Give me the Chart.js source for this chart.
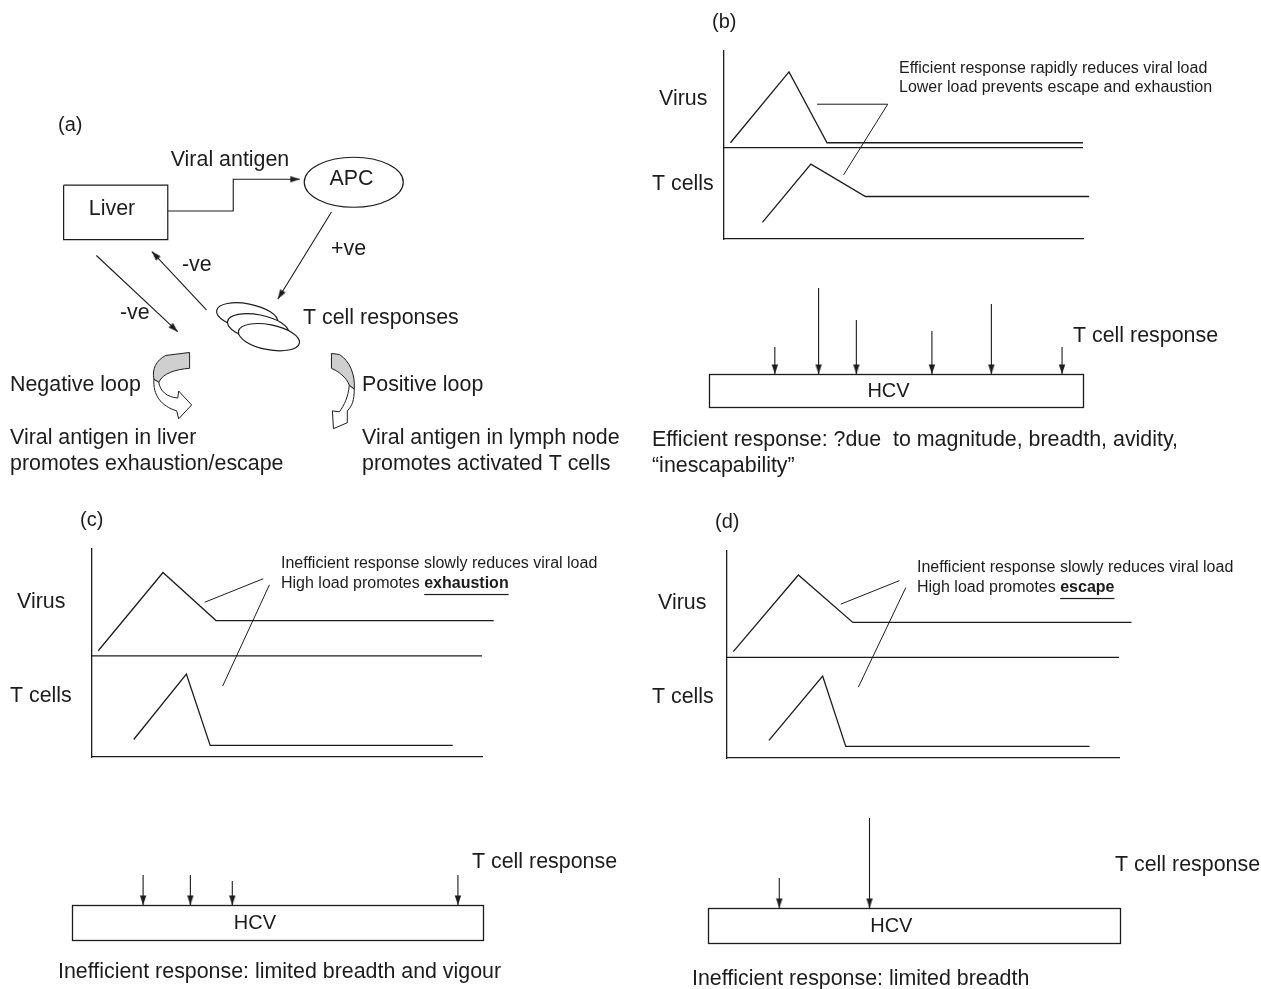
<!DOCTYPE html>
<html>
<head>
<meta charset="utf-8">
<script src="https://cdn.jsdelivr.net/npm/chart.js@4.4.1/dist/chart.umd.min.js"></script>
<style>
  html, body { margin: 0; padding: 0; background: #fff; }
  #page { position: relative; width: 1261px; height: 989px; overflow: hidden; background: #fff; }
  #page canvas { position: absolute; left: 0; top: 0; }
</style>
</head>
<body>
<div id="page"></div>
<script>
// ---- data -------------------------------------------------------------
// kinetics panels: time (0-100) on x, level (0-100) on y
const virusB  = [[1.8, 51.2], [18.1, 88.9], [28.7, 51.2], [100, 51.2]];
const tCellsB = [[10.7, 8.8], [24.2, 39.8], [39.4, 22.6], [101.7, 22.6]];
const virusC  = [[1.6, 51.1], [18.2, 88.7], [31.8, 65.6], [103, 65.6]];
const tCellsC = [[10.7, 8.4], [24.2, 39.9], [30.3, 5.6], [92.5, 5.6]];
const virusD  = [[1.6, 51.4], [18.2, 88.4], [32.1, 65.5], [103.2, 65.5]];
const tCellsD = [[10.7, 8.5], [24.4, 39.6], [30.3, 5.6], [92.5, 5.6]];
const dividerLevel = [48.6, 48.6, 48.6];   // b, c, d

// callout lines from the annotation text to the curves
const pointerB  = [[25.9, 71.7], [45.6, 71.7], [33.3, 34.1]];
const pointerC1 = [[28.9, 74.4], [43.9, 85.7]];
const pointerC2 = [[45.5, 82.8], [33.5, 34.1]];
const pointerD1 = [[29.0, 74.3], [44.0, 85.7]];
const pointerD2 = [[45.6, 82.3], [33.5, 34.2]];

// HCV genome: epitope position (0-100) and size of T cell response
const epitopesB = [17.6, 29.3, 39.4, 59.6, 75.5, 94.4];
const responseB = [27, 86, 54, 43, 70, 27];
const epitopesC = [17.3, 28.8, 39.0, 93.9];
const responseC = [30, 30, 24, 30];
const epitopesD = [17.3, 39.2];
const responseD = [30, 90];

// panel (a) schematic, drawn in page units
const liverBox    = [[59, 182], [164, 182], [164, 237], [59, 237], [59, 182]];
const antigenPath = [[164, 208], [230, 208], [230, 176], [297, 176]];
const apcToT      = [[329, 209], [275, 297]];
const tToLiver    = [[203, 308], [148, 249]];
const liverToT    = [[92, 253], [174, 330]];
const apcNode     = [351.5, 179];
const tCellNodes  = [[244, 314.5], [255, 325.5], [266, 335.5]];

// ---- setup ------------------------------------------------------------
const W = 1261, H = 989;
const INK = '#1c1c1c';
const FONT = '"Liberation Sans", Arial, Helvetica, sans-serif';
const pts = arr => arr.map(([x, y]) => ({x, y}));

// arrow head pointing down, tip at the centre of the image
const arrowHead = document.createElement('canvas');
arrowHead.width = 8; arrowHead.height = 20;
(function () {
  const c = arrowHead.getContext('2d');
  c.fillStyle = INK;
  c.beginPath(); c.moveTo(0.8, 0.5); c.lineTo(7.2, 0.5); c.lineTo(4, 10); c.closePath(); c.fill();
})();

function makeCanvas() {
  const c = document.createElement('canvas');
  c.width = W; c.height = H;
  document.getElementById('page').appendChild(c);
  return c;
}

function drawTexts(ctx, items) {
  items.forEach(it => {
    const size = it.size || 21.4;
    const parts = it.parts || [{t: it.t}];
    ctx.save();
    ctx.fillStyle = INK;
    ctx.textBaseline = 'middle';
    ctx.textAlign = 'left';
    const widths = parts.map(p => {
      ctx.font = (p.bold ? 'bold ' : '') + size + 'px ' + FONT;
      return ctx.measureText(p.t).width;
    });
    const total = widths.reduce((a, b) => a + b, 0);
    let x = it.align === 'center' ? it.x - total / 2 : it.x;
    parts.forEach((p, i) => {
      ctx.font = (p.bold ? 'bold ' : '') + size + 'px ' + FONT;
      ctx.fillText(p.t, x, it.y);
      if (p.underline) ctx.fillRect(x, it.y + size * 0.62, widths[i], 1.2);
      x += widths[i];
    });
    ctx.restore();
  });
}

Chart.register({
  id: 'texts',
  afterDraw(chart, args, opts) {
    if (opts.items) drawTexts(chart.ctx, opts.items);
  }
});

const hidden = {display: false};
const base = {
  responsive: false,
  animation: false,
  events: [],
};

function lineSet(data, width, extra) {
  return Object.assign({
    data: pts(data), showLine: true, borderColor: INK, borderWidth: width,
    pointRadius: 0, fill: false, clip: false, tension: 0
  }, extra || {});
}

// screen-space direction of the last segment -> rotation of the head
function rotationOf(seg, yUp) {
  const dx = seg[1][0] - seg[0][0];
  const dy = (seg[1][1] - seg[0][1]) * (yUp ? -1 : 1);
  return Math.atan2(-dx, dy) * 180 / Math.PI;
}

function arrowSet(data, yUp) {
  const n = data.length;
  const last = [data[n - 2], data[n - 1]];
  return lineSet(data, 1.1, {
    pointRadius: data.map((d, i) => i === n - 1 ? 2 : 0),
    pointStyle: arrowHead,
    pointRotation: data.map((d, i) => i === n - 1 ? rotationOf(last, yUp) : 0)
  });
}

// ---- panel (a) --------------------------------------------------------
function ribbon(ctx, px, py) {
  ctx.save();
  ctx.strokeStyle = INK; ctx.lineWidth = 1; ctx.lineJoin = 'round';
  const path = (cmds) => {
    ctx.beginPath();
    cmds.forEach(c => {
      if (c[0] === 'M') ctx.moveTo(px(c[1]), py(c[2]));
      else if (c[0] === 'L') ctx.lineTo(px(c[1]), py(c[2]));
      else ctx.bezierCurveTo(px(c[1]), py(c[2]), px(c[3]), py(c[4]), px(c[5]), py(c[6]));
    });
    ctx.closePath();
  };
  // negative loop (left)
  path([['M', 150, 378], ['C', 149, 394, 157, 405, 173, 410], ['L', 175, 418], ['L', 188, 404],
        ['L', 175, 390], ['L', 174, 397], ['C', 163, 396, 156, 390, 155, 381]]);
  ctx.fillStyle = '#fff'; ctx.fill(); ctx.stroke();
  path([['M', 162, 354], ['L', 186, 351], ['L', 186, 367], ['C', 172, 368, 159, 372, 155, 381],
        ['L', 150, 378], ['C', 148, 368, 152, 359, 162, 354]]);
  ctx.fillStyle = '#cfcfcf'; ctx.fill(); ctx.stroke();
  // positive loop (right)
  path([['M', 352, 388], ['C', 352, 399, 350, 405, 345, 410], ['L', 345, 422], ['L', 331, 428],
        ['L', 330, 410], ['L', 337, 411], ['C', 342, 404, 346, 396, 347, 384]]);
  ctx.fillStyle = '#fff'; ctx.fill(); ctx.stroke();
  path([['M', 329, 352], ['L', 337, 353], ['C', 348, 360, 353, 374, 352, 388], ['L', 347, 384],
        ['C', 344, 376, 336, 370, 329, 367]]);
  ctx.fillStyle = '#cfcfcf'; ctx.fill(); ctx.stroke();
  ctx.restore();
}

new Chart(makeCanvas(), {
  type: 'scatter',
  data: {
    datasets: [
      lineSet(liverBox, 1.2),
      arrowSet(antigenPath),
      arrowSet(apcToT),
      arrowSet(tToLiver),
      arrowSet(liverToT)
    ]
  },
  options: Object.assign({}, base, {
    layout: {padding: 0},
    scales: {
      x: {type: 'linear', min: 0, max: W, display: false},
      y: {type: 'linear', min: 0, max: H, reverse: true, display: false}
    },
    plugins: {
      legend: hidden, tooltip: {enabled: false},
      texts: {items: [
        {t: '(a)', x: 58, y: 125, size: 20},
        {t: 'Viral antigen', x: 230, y: 160, align: 'center'},
        {t: 'Liver', x: 112, y: 209, align: 'center'},
        {t: 'APC', x: 351.5, y: 179, align: 'center'},
        {t: '+ve', x: 331, y: 249},
        {t: '-ve', x: 182, y: 265},
        {t: '-ve', x: 120, y: 313},
        {t: 'T cell responses', x: 303, y: 318},
        {t: 'Negative loop', x: 10, y: 385},
        {t: 'Positive loop', x: 362, y: 385},
        {t: 'Viral antigen in liver', x: 10, y: 438},
        {t: 'promotes exhaustion/escape', x: 10, y: 464},
        {t: 'Viral antigen in lymph node', x: 362, y: 438},
        {t: 'promotes activated T cells', x: 362, y: 464}
      ]}
    }
  }),
  plugins: [{
    id: 'shapes',
    afterDatasetsDraw(chart) {
      const ctx = chart.ctx;
      const px = v => chart.scales.x.getPixelForValue(v);
      const py = v => chart.scales.y.getPixelForValue(v);
      ctx.save();
      ctx.strokeStyle = INK; ctx.lineWidth = 1.2; ctx.fillStyle = '#fff';
      ctx.beginPath();
      ctx.ellipse(px(apcNode[0]), py(apcNode[1]), 49.5, 25, 0, 0, Math.PI * 2);
      ctx.stroke();
      tCellNodes.forEach(([x, y]) => {
        ctx.beginPath();
        ctx.ellipse(px(x), py(y), 31, 12.5, 11 * Math.PI / 180, 0, Math.PI * 2);
        ctx.fill(); ctx.stroke();
      });
      ctx.restore();
      ribbon(ctx, px, py);
    }
  }]
});

// ---- kinetics panels (b)-(d) -------------------------------------------
function kineticsChart(box, virus, tcells, divider, pointers, items) {
  const axis = {
    type: 'linear', min: 0, max: 100,
    ticks: {display: false},
    grid: {display: false, drawTicks: false},
    border: {display: true, color: INK, width: 1.3}
  };
  new Chart(makeCanvas(), {
    type: 'scatter',
    data: {
      datasets: [
        lineSet([[0, divider], [100, divider]], 1.3),
        lineSet(virus, 1.3),
        lineSet(tcells, 1.3)
      ].concat(pointers.map(p => lineSet(p, 1)))
    },
    options: Object.assign({}, base, {
      layout: {padding: {left: box.left, top: box.top, right: W - box.right, bottom: H - box.bottom}},
      scales: {x: axis, y: Object.assign({}, axis)},
      plugins: {legend: hidden, tooltip: {enabled: false}, texts: {items}}
    })
  });
}

kineticsChart({left: 724, right: 1083, top: 51, bottom: 239}, virusB, tCellsB, dividerLevel[0], [pointerB], [
  {t: '(b)', x: 712, y: 22, size: 20},
  {t: 'Virus', x: 659, y: 99},
  {t: 'T cells', x: 652, y: 184},
  {t: 'Efficient response rapidly reduces viral load', x: 899, y: 69, size: 16},
  {t: 'Lower load prevents escape and exhaustion', x: 899, y: 88, size: 16}
]);

kineticsChart({left: 92, right: 482, top: 549, bottom: 757}, virusC, tCellsC, dividerLevel[1], [pointerC1, pointerC2], [
  {t: '(c)', x: 80, y: 520, size: 20},
  {t: 'Virus', x: 17, y: 602},
  {t: 'T cells', x: 10, y: 696},
  {t: 'Inefficient response slowly reduces viral load', x: 281, y: 564, size: 16},
  {parts: [{t: 'High load promotes '}, {t: 'exhaustion', bold: true, underline: true}], x: 281, y: 584, size: 16}
]);

kineticsChart({left: 727, right: 1119, top: 551, bottom: 758}, virusD, tCellsD, dividerLevel[2], [pointerD1, pointerD2], [
  {t: '(d)', x: 715, y: 522, size: 20},
  {t: 'Virus', x: 658, y: 603},
  {t: 'T cells', x: 652, y: 697},
  {t: 'Inefficient response slowly reduces viral load', x: 917, y: 568, size: 16},
  {parts: [{t: 'High load promotes '}, {t: 'escape', bold: true, underline: true}], x: 917, y: 588, size: 16}
]);

// ---- HCV genome with T cell response arrows ---------------------------
function genomeChart(box, positions, magnitudes, labelAt, items) {
  new Chart(makeCanvas(), {
    type: 'scatter',
    data: {
      datasets: positions.map((p, i) => arrowSet([[p, magnitudes[i]], [p, 0]], true))
    },
    options: Object.assign({}, base, {
      layout: {padding: {left: box.left, top: box.top - 100, right: W - box.right, bottom: H - box.top}},
      scales: {
        x: {type: 'linear', min: 0, max: 100, display: false},
        y: {type: 'linear', min: 0, max: 100, display: false}
      },
      plugins: {legend: hidden, tooltip: {enabled: false}, texts: {items}}
    }),
    plugins: [{
      id: 'genome',
      beforeDatasetsDraw(chart) {
        const ctx = chart.ctx;
        const x0 = chart.scales.x.getPixelForValue(0);
        const x1 = chart.scales.x.getPixelForValue(100);
        const y0 = chart.scales.y.getPixelForValue(0);
        ctx.save();
        ctx.strokeStyle = INK; ctx.lineWidth = 1.3;
        ctx.strokeRect(Math.round(x0) + 0.5, Math.round(y0) + 0.5, Math.round(x1 - x0), box.height);
        ctx.restore();
        drawTexts(ctx, [{t: 'HCV', x: chart.scales.x.getPixelForValue(labelAt), y: y0 + box.height / 2 + 1, align: 'center', size: 20}]);
      }
    }]
  });
}

genomeChart({left: 709, right: 1083, top: 374, height: 33}, epitopesB, responseB, 48, [
  {t: 'T cell response', x: 1073, y: 336},
  {t: 'Efficient response: ?due  to magnitude, breadth, avidity,', x: 652, y: 440},
  {t: '\u201cinescapability\u201d', x: 652, y: 466}
]);

genomeChart({left: 72, right: 483, top: 905, height: 35}, epitopesC, responseC, 44.5, [
  {t: 'T cell response', x: 472, y: 862},
  {t: 'Inefficient response: limited breadth and vigour', x: 58, y: 972}
]);

genomeChart({left: 708, right: 1120, top: 908, height: 35}, epitopesD, responseD, 44.5, [
  {t: 'T cell response', x: 1115, y: 865},
  {t: 'Inefficient response: limited breadth', x: 692, y: 979}
]);
</script>
</body>
</html>
